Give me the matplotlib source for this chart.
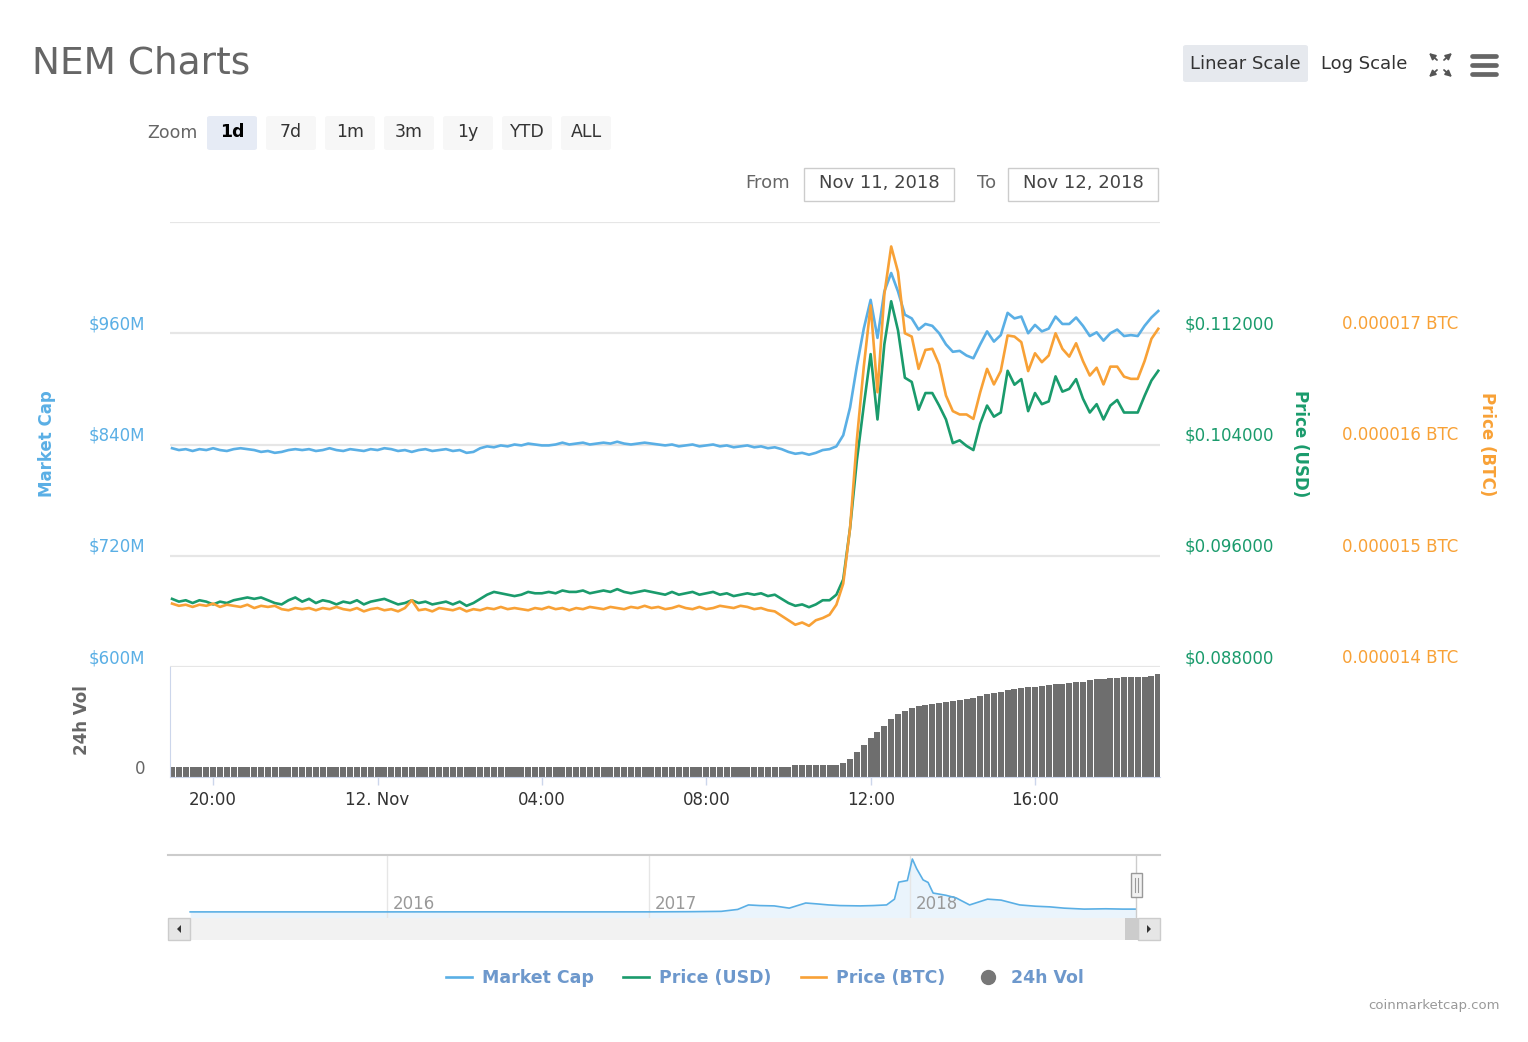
import matplotlib
matplotlib.use('Agg')
import matplotlib.pyplot as plt
from matplotlib.patches import Rectangle, FancyBboxPatch, Polygon, FancyArrowPatch
from matplotlib.lines import Line2D
from matplotlib.ticker import FuncFormatter
from matplotlib.transforms import ScaledTranslation
import pandas as pd

# ---- data (10 minute steps, Nov 11 19:00 -> Nov 12 19:00) ----
start_time = '2018-11-11 19:00'

market_cap_m = [
    836, 834, 835, 833, 835, 834, 836, 834, 833, 835,
    836, 835, 834, 832, 833, 831, 832, 834, 835, 834,
    835, 833, 834, 836, 834, 833, 835, 834, 833, 835,
    834, 836, 835, 833, 834, 832, 834, 835, 833, 834,
    835, 833, 834, 831, 832, 836, 838, 837, 839, 838,
    840, 839, 841, 840, 839, 839, 840, 842, 840, 841,
    842, 840, 841, 842, 841, 843, 841, 840, 841, 842,
    841, 840, 839, 840, 838, 839, 840, 838, 839, 840,
    838, 839, 837, 838, 839, 837, 838, 836, 837, 835,
    832, 830, 831, 829, 831, 834, 835, 838, 850, 880,
    925, 965, 996, 955, 1005, 1025, 1005, 980, 976, 964,
    970, 968, 960, 948, 940, 941, 936, 933, 948, 962,
    951, 958, 982, 976, 978, 960, 969, 962, 965, 978,
    970, 970, 977, 968, 957, 961, 952, 960, 964, 957,
    958, 957, 968, 977, 984,
]

price_usd = [
    0.0929, 0.0927, 0.0928, 0.0926, 0.0928, 0.0927, 0.0925, 0.0927, 0.0926, 0.0928,
    0.0929, 0.0930, 0.0929, 0.0930, 0.0928, 0.0926, 0.0925, 0.0928, 0.0930, 0.0927,
    0.0929, 0.0926, 0.0928, 0.0927, 0.0925, 0.0927, 0.0926, 0.0928, 0.0925, 0.0927,
    0.0928, 0.0929, 0.0927, 0.0925, 0.0926, 0.0928, 0.0926, 0.0927, 0.0925, 0.0926,
    0.0927, 0.0925, 0.0927, 0.0924, 0.0926, 0.0929, 0.0932, 0.0934, 0.0933, 0.0932,
    0.0931, 0.0932, 0.0934, 0.0933, 0.0933, 0.0934, 0.0933, 0.0935, 0.0934, 0.0934,
    0.0935, 0.0933, 0.0934, 0.0935, 0.0934, 0.0936, 0.0934, 0.0933, 0.0934, 0.0935,
    0.0934, 0.0933, 0.0932, 0.0934, 0.0932, 0.0933, 0.0934, 0.0932, 0.0933, 0.0934,
    0.0932, 0.0933, 0.0931, 0.0932, 0.0933, 0.0932, 0.0933, 0.0931, 0.0932, 0.0929,
    0.0926, 0.0924, 0.0925, 0.0923, 0.0925, 0.0928, 0.0928, 0.0932, 0.0943, 0.0980,
    0.1029, 0.1068, 0.1105, 0.1058, 0.1112, 0.1143, 0.1122, 0.1088, 0.1085, 0.1065,
    0.1077, 0.1077, 0.1068, 0.1058, 0.1041, 0.1043, 0.1039, 0.1036, 0.1055, 0.1068,
    0.1060, 0.1063, 0.1093, 0.1083, 0.1087, 0.1064, 0.1077, 0.1069, 0.1071, 0.1089,
    0.1078, 0.1080, 0.1087, 0.1073, 0.1063, 0.1069, 0.1058, 0.1068, 0.1072, 0.1063,
    0.1063, 0.1063, 0.1075, 0.1086, 0.1093,
]

# price in BTC, given in millionths of a BTC
price_btc_e6 = [
    14.57, 14.55, 14.56, 14.54, 14.56, 14.55, 14.57, 14.54, 14.56, 14.55,
    14.54, 14.56, 14.53, 14.55, 14.54, 14.55, 14.52, 14.51, 14.53, 14.52,
    14.53, 14.51, 14.53, 14.52, 14.54, 14.52, 14.51, 14.53, 14.50, 14.52,
    14.53, 14.51, 14.52, 14.50, 14.53, 14.60, 14.51, 14.52, 14.50, 14.53,
    14.52, 14.51, 14.53, 14.50, 14.52, 14.51, 14.53, 14.52, 14.54, 14.52,
    14.53, 14.52, 14.51, 14.53, 14.52, 14.54, 14.52, 14.53, 14.51, 14.53,
    14.52, 14.54, 14.53, 14.52, 14.54, 14.53, 14.52, 14.54, 14.53, 14.55,
    14.53, 14.54, 14.52, 14.53, 14.55, 14.53, 14.52, 14.54, 14.52, 14.53,
    14.55, 14.54, 14.53, 14.55, 14.54, 14.52, 14.53, 14.51, 14.50, 14.46,
    14.42, 14.38, 14.40, 14.37, 14.42, 14.44, 14.47, 14.56, 14.75, 15.25,
    16.05, 16.70, 17.25, 16.47, 17.35, 17.78, 17.55, 17.00, 16.97, 16.68,
    16.85, 16.86, 16.72, 16.44, 16.30, 16.27, 16.27, 16.23, 16.47, 16.68,
    16.54, 16.66, 16.98, 16.97, 16.92, 16.66, 16.82, 16.74, 16.80, 17.00,
    16.86, 16.79, 16.91, 16.75, 16.62, 16.69, 16.54, 16.70, 16.70, 16.61,
    16.59, 16.59, 16.75, 16.95, 17.04,
]

# 24h volume, millions USD
volume_24h_m = [
    5.5, 5.4, 5.5, 5.5, 5.4, 5.5, 5.5, 5.4, 5.5, 5.5,
    5.4, 5.5, 5.5, 5.4, 5.5, 5.5, 5.4, 5.5, 5.5, 5.4,
    5.5, 5.5, 5.4, 5.5, 5.5, 5.4, 5.5, 5.5, 5.4, 5.5,
    5.5, 5.4, 5.5, 5.5, 5.4, 5.5, 5.5, 5.4, 5.5, 5.5,
    5.4, 5.5, 5.5, 5.4, 5.5, 5.5, 5.4, 5.5, 5.5, 5.4,
    5.5, 5.5, 5.4, 5.5, 5.5, 5.4, 5.5, 5.5, 5.4, 5.5,
    5.5, 5.4, 5.5, 5.5, 5.4, 5.5, 5.5, 5.4, 5.5, 5.5,
    5.4, 5.5, 5.5, 5.4, 5.5, 5.5, 5.4, 5.5, 5.5, 5.4,
    5.5, 5.5, 5.4, 5.5, 5.5, 5.4, 5.5, 5.5, 5.4, 5.5,
    5.6, 6.4, 6.4, 6.5, 6.5, 6.5, 6.6, 6.8, 7.5, 10.0,
    13.6, 17.4, 21.3, 24.5, 27.8, 31.6, 34.3, 36.0, 37.6, 38.7,
    39.2, 39.8, 40.3, 40.9, 41.4, 42.0, 42.5, 43.1, 44.1, 45.2,
    45.8, 46.3, 47.4, 48.0, 48.5, 49.1, 49.1, 49.6, 50.1, 50.7,
    50.7, 51.2, 51.8, 51.8, 52.9, 53.4, 53.4, 54.0, 54.0, 54.5,
    54.5, 54.5, 54.5, 55.0, 56.1,
]

# navigator: whole history of market cap, billions USD
nav_dates = [
    '2015-04-01', '2015-09-01', '2016-01-01', '2016-06-01', '2016-10-01',
    '2017-01-01', '2017-03-01', '2017-04-12', '2017-05-05', '2017-05-20',
    '2017-06-05', '2017-06-25', '2017-07-16', '2017-08-08', '2017-08-25',
    '2017-09-09', '2017-09-25', '2017-10-23', '2017-11-10', '2017-11-29',
    '2017-12-10', '2017-12-16', '2017-12-28', '2018-01-04', '2018-01-10',
    '2018-01-19', '2018-01-26', '2018-02-02', '2018-02-20', '2018-03-06',
    '2018-03-25', '2018-04-19', '2018-05-08', '2018-06-03', '2018-06-25',
    '2018-07-15', '2018-08-04', '2018-09-01', '2018-10-01', '2018-10-25',
    '2018-11-12',
]
nav_cap_b = [
    0.03, 0.03, 0.03, 0.05, 0.03,
    0.04, 0.10, 0.2, 0.8, 2.2,
    2.0, 1.9, 1.2, 2.8, 2.5,
    2.2, 2.0, 1.9, 2.0, 2.2,
    4.0, 9.3, 9.8, 16.5, 13.5,
    10.0, 9.2, 5.9, 5.2, 4.4,
    2.2, 4.0, 3.7, 2.2, 1.8,
    1.6, 1.2, 0.9, 1.0, 0.9,
    0.9,
]

x_ticks = ['2018-11-11 20:00', '2018-11-12 00:00', '2018-11-12 04:00',
           '2018-11-12 08:00', '2018-11-12 12:00', '2018-11-12 16:00']
x_tick_labels = ['20:00', '12. Nov', '04:00', '08:00', '12:00', '16:00']
zoom_buttons = ['1d', '7d', '1m', '3m', '1y', 'YTD', 'ALL']

BLUE = '#5aafe5'
GREEN = '#1a9b6c'
ORANGE = '#f8a136'
GRID = '#e6e6e6'

W, H = 1528, 1042
fig = plt.figure(figsize=(W / 100, H / 100), dpi=100)
plt.rcParams['font.family'] = ['DejaVu Sans']


def fx(px):
    return px / W


def fy(py):
    return 1 - py / H


def box(x0, y0, x1, y1):
    return [fx(x0), fy(y1), fx(x1) - fx(x0), fy(y0) - fy(y1)]


def shift(labels, dx_px, dy_px):
    for lab in labels:
        lab.set_transform(lab.get_transform() +
                          ScaledTranslation(dx_px / 100, dy_px / 100, fig.dpi_scale_trans))


times = pd.date_range(start_time, periods=len(market_cap_m), freq='10min')
t_lo = pd.Timestamp('2018-11-11 18:57:00')
t_hi = pd.Timestamp('2018-11-12 19:02:30')

# ---- main price pane ----
ax = fig.add_axes(box(170, 222, 1160, 667))
ax_usd = ax.twinx()
ax_btc = ax.twinx()

line_mc, = ax.plot(times, market_cap_m, color=BLUE, lw=1.9)
line_usd, = ax_usd.plot(times, price_usd, color=GREEN, lw=1.9)
line_btc, = ax_btc.plot(times, price_btc_e6, color=ORANGE, lw=1.9)

ax.set_xlim(t_lo, t_hi)
ax.set_ylim(600, 1080)
ax.set_yticks([600, 720, 840, 960, 1080])
ax.yaxis.set_major_formatter(FuncFormatter(lambda v, p: '' if v > 1000 else f'${v:.0f}M'))
ax.grid(axis='y', color=GRID, lw=1.6)
ax.tick_params(axis='y', length=0, pad=18, labelcolor=BLUE, labelsize=12)
ax.tick_params(axis='x', bottom=False, labelbottom=False)

ax_usd.set_ylim(0.088, 0.120)
ax_usd.set_yticks([0.088, 0.096, 0.104, 0.112])
ax_usd.yaxis.set_major_formatter(FuncFormatter(lambda v, p: f'${v:.6f}'))
ax_usd.tick_params(axis='y', length=0, pad=18, labelcolor=GREEN, labelsize=12)

ax_btc.set_ylim(14, 18)
ax_btc.set_yticks([14, 15, 16, 17])
ax_btc.yaxis.set_major_formatter(FuncFormatter(lambda v, p: f'{v / 1e6:.6f} BTC'))
ax_btc.tick_params(axis='y', length=0, pad=131, labelcolor=ORANGE, labelsize=12)

for a in (ax, ax_usd, ax_btc):
    for s in a.spines.values():
        s.set_visible(False)
    a.patch.set_visible(False)

shift(ax.get_yticklabels() + ax_usd.get_yticklabels() + ax_btc.get_yticklabels(), 0, 11)

# ---- volume pane ----
axv = fig.add_axes(box(170, 667, 1160, 777))
axv.bar(times, volume_24h_m, width=8.8 / 1440, color='#6e6e6e', linewidth=0)
axv.set_xlim(t_lo, t_hi)
axv.set_ylim(0, 60)
axv.set_yticks([0])
axv.set_yticklabels(['0'])
axv.set_xticks(pd.to_datetime(x_ticks))
axv.set_xticklabels(x_tick_labels)
axv.tick_params(axis='y', length=0, pad=18, labelcolor='#666666', labelsize=12)
axv.tick_params(axis='x', length=6, width=1, color='#ccd6eb', pad=4,
                labelcolor='#333333', labelsize=12)
for s in ('top', 'right'):
    axv.spines[s].set_visible(False)
axv.spines['bottom'].set_color('#ccd6eb')
axv.spines['left'].set_color('#ccd6eb')
axv.patch.set_visible(False)
shift(axv.get_yticklabels(), 0, 10)

# ---- navigator ----
nav_t = pd.to_datetime(nav_dates)
axn = fig.add_axes(box(168, 855, 1160, 918))
axn.fill_between(nav_t, nav_cap_b, -1.87, color='#eaf4fc', lw=0)
axn.plot(nav_t, nav_cap_b, color=BLUE, lw=1.2)
axn.axvline(nav_t[-1], color='#cccccc', lw=1)
axn.set_xlim(pd.Timestamp('2015-03-01'), pd.Timestamp('2018-12-16'))
axn.set_ylim(-1.87, 17.75)
axn.set_yticks([])
axn.set_xticks(pd.to_datetime(['2016-01-01', '2017-01-01', '2018-01-01']))
axn.set_xticklabels(['2016', '2017', '2018'])
axn.grid(axis='x', color=GRID, lw=1)
axn.tick_params(axis='x', length=0, pad=0, labelsize=12, labelcolor='#999999')
for lab in axn.get_xticklabels():
    lab.set_ha('left')
    lab.set_va('center')
shift(axn.get_xticklabels(), 6, 14)
for s in ('bottom', 'left', 'right'):
    axn.spines[s].set_visible(False)
axn.spines['top'].set_color('#cccccc')
axn.spines['top'].set_linewidth(1.5)

# scrollbar
def frect(x0, y0, x1, y1, **kw):
    r = Rectangle((fx(x0), fy(y1)), fx(x1) - fx(x0), fy(y0) - fy(y1),
                  transform=fig.transFigure, **kw)
    fig.add_artist(r)
    return r

frect(168, 918, 1160, 940, fc='#f2f2f2', ec='none')
frect(1125, 918, 1138, 940, fc='#cccccc', ec='none')
frect(168, 918, 190, 940, fc='#e6e6e6', ec='#cccccc', lw=1)
frect(1138, 918, 1160, 940, fc='#e6e6e6', ec='#cccccc', lw=1)
for pts in ([(177, 929), (181, 925), (181, 933)], [(1151, 929), (1147, 925), (1147, 933)]):
    fig.add_artist(Polygon([(fx(a), fy(b)) for a, b in pts], closed=True,
                           transform=fig.transFigure, fc='#333333', ec='none'))
frect(1131, 873, 1142, 897, fc='#f2f2f2', ec='#999999', lw=1)
for xx in (1135, 1138):
    fig.add_artist(Line2D([fx(xx), fx(xx)], [fy(878), fy(892)], transform=fig.transFigure,
                          color='#999999', lw=0.8))

# ---- axis titles ----
fig.text(fx(47), fy(444), 'Market Cap', rotation=90, ha='center', va='center',
         color=BLUE, fontsize=12, fontweight='bold')
fig.text(fx(1300), fy(444), 'Price (USD)', rotation=270, ha='center', va='center',
         color=GREEN, fontsize=12, fontweight='bold')
fig.text(fx(1487), fy(444), 'Price (BTC)', rotation=270, ha='center', va='center',
         color=ORANGE, fontsize=12, fontweight='bold')
fig.text(fx(82), fy(720), '24h Vol', rotation=90, ha='center', va='center',
         color='#666666', fontsize=12, fontweight='bold')

# ---- header ----
fig.text(fx(32), fy(64), 'NEM Charts', ha='left', va='center', color='#666666', fontsize=27)

fig.text(fx(198), fy(133), 'Zoom', ha='right', va='center', color='#666666', fontsize=12.5)
for k, name in enumerate(zoom_buttons):
    x0 = 207 + 59 * k
    fig.add_artist(FancyBboxPatch((fx(x0), fy(150)), fx(50), fy(116) - fy(150),
                                  boxstyle='round,pad=0,rounding_size=0.002',
                                  transform=fig.transFigure,
                                  fc='#e6ebf5' if k == 0 else '#f7f7f7', ec='none'))
    fig.text(fx(x0 + 25), fy(132), name, ha='center', va='center', fontsize=12.5,
             color='#000000' if k == 0 else '#333333',
             fontweight='bold' if k == 0 else 'normal')

fig.text(fx(790), fy(183), 'From', ha='right', va='center', color='#666666', fontsize=13)
frect(804, 168, 954, 201, fc='white', ec='#cccccc', lw=1)
fig.text(fx(879), fy(183), 'Nov 11, 2018', ha='center', va='center', color='#444444', fontsize=13)
fig.text(fx(996), fy(183), 'To', ha='right', va='center', color='#666666', fontsize=13)
frect(1008, 168, 1158, 201, fc='white', ec='#cccccc', lw=1)
fig.text(fx(1083), fy(183), 'Nov 12, 2018', ha='center', va='center', color='#444444', fontsize=13)

fig.add_artist(FancyBboxPatch((fx(1183), fy(82)), fx(125), fy(45) - fy(82),
                              boxstyle='round,pad=0,rounding_size=0.002',
                              transform=fig.transFigure, fc='#e6e9ee', ec='none'))
fig.text(fx(1245), fy(64), 'Linear Scale', ha='center', va='center', color='#333333', fontsize=13)
fig.text(fx(1364), fy(64), 'Log Scale', ha='center', va='center', color='#333333', fontsize=13)

# fullscreen icon
for (xa, ya), (xb, yb) in [((1437, 60), (1429, 53)), ((1444, 60), (1452, 53)),
                           ((1437, 70), (1429, 77)), ((1444, 70), (1452, 77))]:
    fig.add_artist(FancyArrowPatch((fx(xa), fy(ya)), (fx(xb), fy(yb)), transform=fig.transFigure,
                                   arrowstyle='-|>', mutation_scale=9, color='#555555', lw=1.3,
                                   shrinkA=0, shrinkB=0))
# menu icon
for yy in (56, 65, 74):
    fig.add_artist(Line2D([fx(1472), fx(1496)], [fy(yy), fy(yy)], transform=fig.transFigure,
                          color='#666666', lw=3.4, solid_capstyle='round'))

# ---- legend ----
vol_handle = Line2D([], [], marker='o', ls='none', color='#777777', markersize=10)
fig.legend([line_mc, line_usd, line_btc, vol_handle],
           ['Market Cap', 'Price (USD)', 'Price (BTC)', '24h Vol'],
           loc='center', bbox_to_anchor=(fx(765), fy(978)), ncol=4, frameon=False,
           prop={'weight': 'bold', 'size': 12.5}, labelcolor='#6d98cc',
           handlelength=1.45, handletextpad=0.6, columnspacing=1.7)

fig.text(fx(1500), fy(1006), 'coinmarketcap.com', ha='right', va='center',
         color='#999999', fontsize=9.5)

fig.savefig('out.png', dpi=100)
